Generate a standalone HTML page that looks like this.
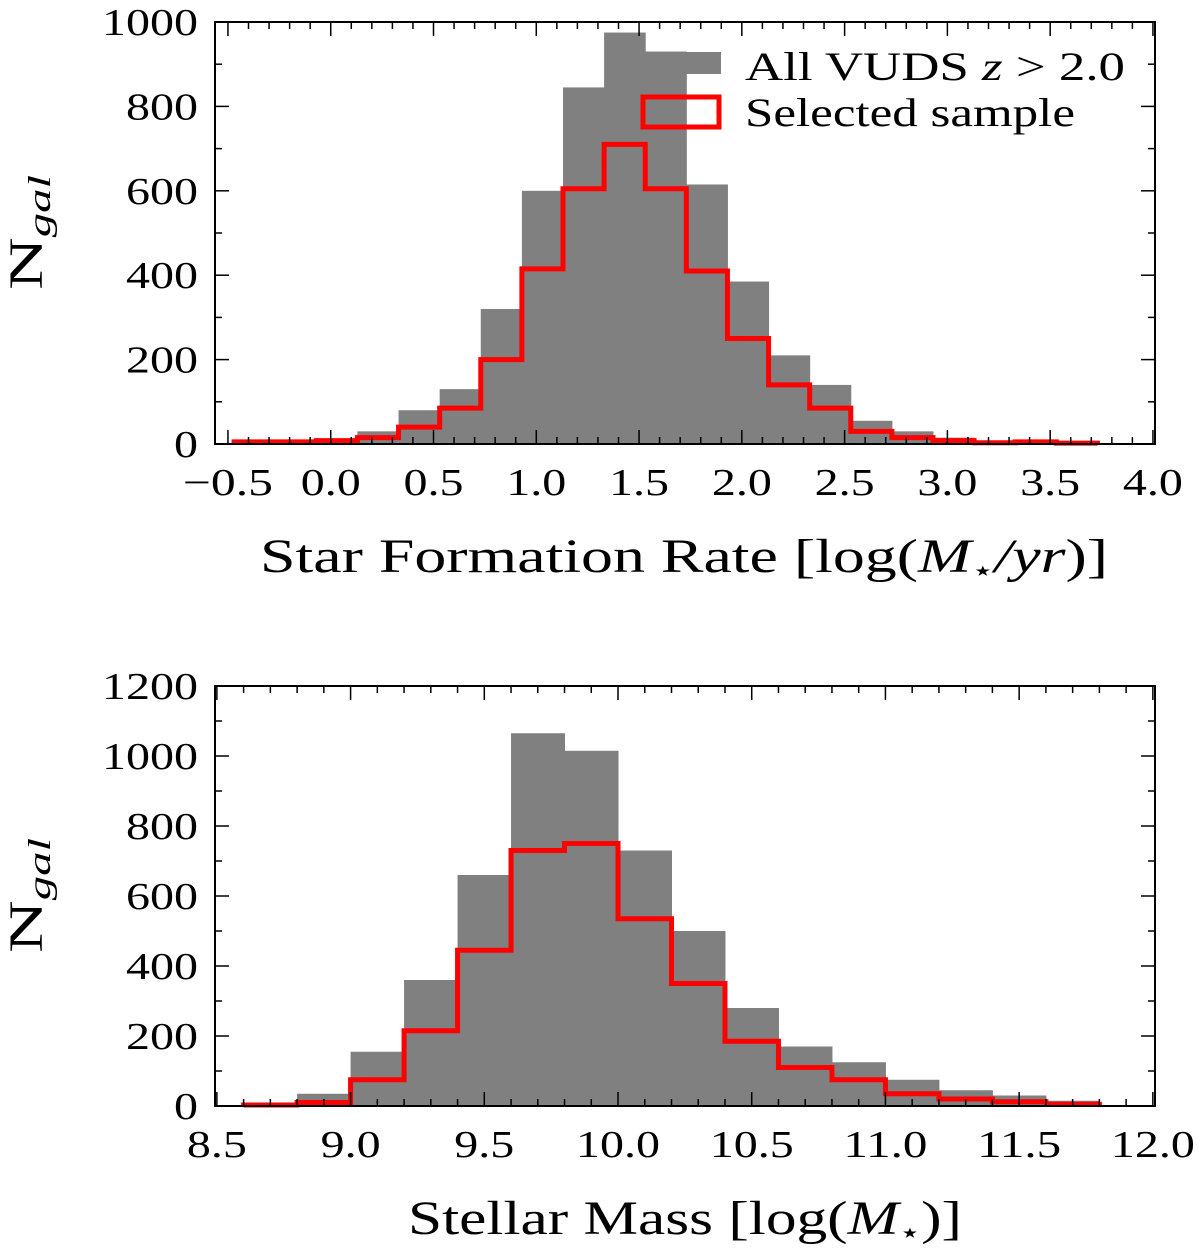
<!DOCTYPE html>
<html><head><meta charset="utf-8"><style>
body{margin:0;background:#fff}
svg text{font-family:"Liberation Serif","DejaVu Serif",serif;fill:#000}
</style></head><body>
<svg id="c" width="1200" height="1250" xmlns="http://www.w3.org/2000/svg"></svg>
<script>
// Top panel data (SFR)
const sfrEdgeStart = -0.47;
const sfrBinWidth = 0.2;
const sfrAll = [5,8,10,30,80,130,320,600,845,975,930,615,385,210,140,55,30,15,8,5,3];
const sfrSel = [5,5,8,15,40,85,200,415,605,710,605,410,250,140,85,30,15,8,3,5,2];
const sfrXTicks = [-0.5,0.0,0.5,1.0,1.5,2.0,2.5,3.0,3.5,4.0];
const sfrXTickLabels = ["\u22120.5","0.0","0.5","1.0","1.5","2.0","2.5","3.0","3.5","4.0"];
const sfrYTicks = [0,200,400,600,800,1000];
// Bottom panel data (mass)
const massEdgeStart = 8.6;
const massBinWidth = 0.2;
const massAll = [5,35,155,360,660,1065,1015,730,500,280,170,125,75,45,30,15];
const massSel = [3,10,75,215,445,730,750,535,350,185,110,75,35,20,12,5];
const massXTicks = [8.5,9.0,9.5,10.0,10.5,11.0,11.5,12.0];
const massXTickLabels = ["8.5","9.0","9.5","10.0","10.5","11.0","11.5","12.0"];
const massYTicks = [0,200,400,600,800,1000,1200];

const NS="http://www.w3.org/2000/svg";
const svg=document.getElementById('c');
function mk(tag,attrs,parent){const e=document.createElementNS(NS,tag);for(const k in attrs)e.setAttribute(k,attrs[k]);(parent||svg).appendChild(e);return e;}
function lblLen(s){let w=0;for(const ch of s){w+=(ch==='.')?12:(ch==='\u2212'?30:24);}return w;}

function panel(o){
  const g=mk('g',{});
  
  
  const xs=v=>o.L+(v-o.x0)/(o.x1-o.x0)*(o.R-o.L);
  const ys=v=>o.B-(v-o.y0)/(o.y1-o.y0)*(o.B-o.T);
  o.all.forEach((v,i)=>{
    const a=o.e0+i*o.bw,b=a+o.bw;
    const r=mk('rect',{x:xs(a),y:ys(v),width:xs(b)-xs(a)+0.5,height:ys(0)-ys(v),fill:'#808080'},g);
    
    
  });
  let d='';
  o.sel.forEach((v,i)=>{
    const a=o.e0+i*o.bw,b=a+o.bw;
    d+=(i===0?'M'+xs(a)+' '+ys(0)+' L':' L')+xs(a)+' '+ys(v)+' L'+xs(b)+' '+ys(v);
  });
  d+=' L'+xs(o.e0+o.sel.length*o.bw)+' '+ys(0);
  const p=mk('path',{d:d,fill:'none',stroke:'#ff0000','stroke-width':5,'stroke-linejoin':'miter'},g);
  
  
  const tk=(x1,y1,x2,y2)=>mk('line',{x1,y1,x2,y2,stroke:'#000','stroke-width':1.5},g);
  for(let v=Math.ceil(o.x0*10-1e-6);v<=o.x1*10+1e-6;v++){
    const x=xs(v/10),len=(v%5===0)?14:7;
    tk(x,o.B,x,o.B-len);tk(x,o.T,x,o.T+len);
  }
  for(let v=o.y0;v<=o.y1;v+=100){
    const y=ys(v),len=(v%200===0)?14:7;
    tk(o.L,y,o.L+len,y);tk(o.R,y,o.R-len,y);
  }
  mk('rect',{x:o.L,y:o.T,width:o.R-o.L,height:o.B-o.T,fill:'none',stroke:'#000','stroke-width':2},g);
  o.xt.forEach((v,i)=>{
    const s=o.xl[i],w=lblLen(s);
    const t=mk('text',{x:xs(v)-w/2,y:o.B+51,'font-size':38,textLength:w,lengthAdjust:'spacingAndGlyphs'},g);
    t.textContent=s;
    
    
  });
  o.yt.forEach(v=>{
    const s=String(v),w=lblLen(s);
    const t=mk('text',{x:o.L-17-w,y:ys(v)+13,'font-size':38,textLength:w,lengthAdjust:'spacingAndGlyphs'},g);
    t.textContent=s;
    
    
  });
}
panel({name:'sfr-panel',L:215,R:1155,T:22,B:444,x0:-0.563,x1:4.01,y0:0,y1:1000,e0:sfrEdgeStart,bw:sfrBinWidth,all:sfrAll,sel:sfrSel,xt:sfrXTicks,xl:sfrXTickLabels,yt:sfrYTicks});
panel({name:'mass-panel',L:215,R:1155,T:686,B:1106,x0:8.493,x1:12.008,y0:0,y1:1200,e0:massEdgeStart,bw:massBinWidth,all:massAll,sel:massSel,xt:massXTicks,xl:massXTickLabels,yt:massYTicks});

svg.insertAdjacentHTML('beforeend',`
<rect x="643" y="52" width="78" height="22" fill="#808080"/>
<text x="745" y="80" font-size="40" textLength="380" lengthAdjust="spacingAndGlyphs">All VUDS <tspan font-style="italic">z</tspan> &gt; 2.0</text>
<rect x="643" y="97" width="76" height="30" fill="none" stroke="#ff0000" stroke-width="5"/>
<text x="745" y="126" font-size="40" textLength="330" lengthAdjust="spacingAndGlyphs">Selected sample</text>
<text x="260" y="572" font-size="48" textLength="848" lengthAdjust="spacingAndGlyphs">Star Formation Rate [log(<tspan font-style="italic">M</tspan><tspan font-size="28" dy="8">&#8902;</tspan><tspan dy="-8" font-style="italic">/yr</tspan>)]</text>
<text x="408" y="1234" font-size="48" textLength="554" lengthAdjust="spacingAndGlyphs">Stellar Mass [log(<tspan font-style="italic">M</tspan><tspan font-size="28" dy="8">&#8902;</tspan><tspan dy="-8">)]</tspan></text>
<text transform="translate(42,290) rotate(-90)" font-size="48" textLength="115" lengthAdjust="spacingAndGlyphs">N<tspan font-size="32" font-style="italic" dy="8">gal</tspan></text>
<text transform="translate(42,953) rotate(-90)" font-size="48" textLength="115" lengthAdjust="spacingAndGlyphs">N<tspan font-size="32" font-style="italic" dy="8">gal</tspan></text>
`);
</script>
</body></html>
